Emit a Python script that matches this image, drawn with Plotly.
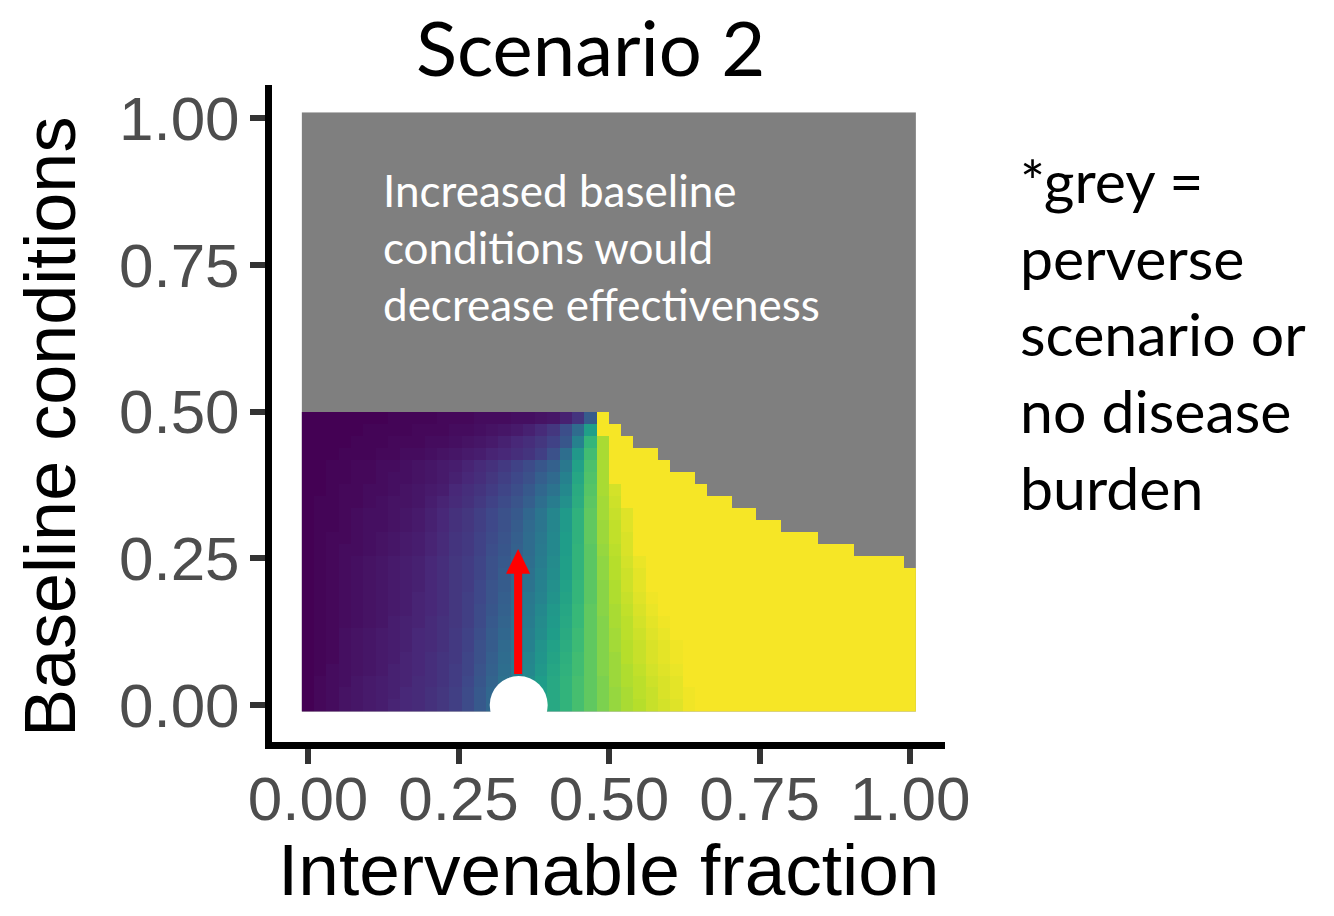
import plotly.graph_objects as go

# ---------------- data ----------------
n_grid = 50
x_vals = [i / 49 for i in range(n_grid)]          # Intervenable fraction grid
y_vals = [j / 49 for j in range(n_grid)]          # Baseline conditions grid

# highest coloured row index for each column (cells above are grey)
top_row = [24] * 25 + [23, 22, 21, 21, 20, 19, 19, 18, 17, 17, 16, 16, 15, 15,
                       14, 14, 14, 13, 13, 13, 12, 12, 12, 12, 11]

# effectiveness (percent of colour scale), rows j = 0..24 (bottom to top), columns i = 0..49
eff_rows = [
    [0,2,3,5,6,7,8,10,11,12,14,16,19,23,28,33,38,44,50,56,60,65,70,75,80,84,87,89,92,94,96,99,100,100,100,100,100,100,100,100,100,100,100,100,100,100,100,100,100,100],
    [0,2,3,5,6,7,8,9,11,12,14,16,19,23,28,33,38,44,50,56,60,65,70,75,80,84,87,90,92,95,97,99,100,100,100,100,100,100,100,100,100,100,100,100,100,100,100,100,100,100],
    [0,2,3,4,6,7,8,9,10,12,13,15,18,22,27,32,37,43,49,55,60,65,70,75,80,85,88,90,93,95,97,100,100,100,100,100,100,100,100,100,100,100,100,100,100,100,100,100,100,100],
    [0,1,3,4,5,6,7,9,10,11,13,15,18,21,26,31,36,41,47,53,59,64,69,75,81,85,88,91,94,96,98,100,100,100,100,100,100,100,100,100,100,100,100,100,100,100,100,100,100,100],
    [0,1,2,4,5,6,7,8,10,11,13,15,17,21,25,30,35,40,46,52,58,63,69,75,81,85,89,92,95,97,99,100,100,100,100,100,100,100,100,100,100,100,100,100,100,100,100,100,100,100],
    [0,1,2,4,5,6,7,8,9,11,12,14,17,20,25,29,34,39,44,51,57,62,68,75,81,86,89,92,95,97,99,100,100,100,100,100,100,100,100,100,100,100,100,100,100,100,100,100,100,100],
    [0,1,2,4,5,6,7,8,9,11,12,14,17,20,24,29,33,38,43,49,55,61,68,75,81,86,90,93,96,98,100,100,100,100,100,100,100,100,100,100,100,100,100,100,100,100,100,100,100,100],
    [0,1,2,3,4,5,6,8,9,10,12,14,16,19,23,28,32,37,42,48,54,60,67,75,81,87,90,94,97,99,100,100,100,100,100,100,100,100,100,100,100,100,100,100,100,100,100,100,100,100],
    [0,1,2,3,4,5,6,7,8,10,11,13,16,19,23,27,31,36,41,47,53,59,67,75,82,87,91,95,98,100,100,100,100,100,100,100,100,100,100,100,100,100,100,100,100,100,100,100,100,100],
    [0,1,2,3,4,5,6,7,8,10,11,13,16,19,22,26,30,35,40,45,51,58,66,74,82,88,92,96,99,100,100,100,100,100,100,100,100,100,100,100,100,100,100,100,100,100,100,100,100,100],
    [0,1,2,3,4,5,6,7,8,9,11,13,16,18,22,26,29,34,38,44,50,57,66,74,82,88,93,97,100,100,100,100,100,100,100,100,100,100,100,100,100,100,100,100,100,100,100,100,100,100],
    [0,1,2,3,4,5,6,7,8,9,11,13,16,18,21,25,29,33,37,43,49,56,65,74,83,89,93,97,100,100,100,100,100,100,100,100,100,100,100,100,100,100,100,100,100,100,100,100,100,100],
    [0,1,2,3,4,5,6,7,8,9,11,13,16,18,21,25,28,32,36,42,48,56,65,74,83,89,94,98,100,100,100,100,100,100,100,100,100,100,100,100,100,100,100,100,100,100,100,100,100,100],
    [0,1,2,3,3,4,5,6,7,8,10,12,15,17,20,24,27,31,35,41,47,55,65,74,84,90,95,100,100,100,100,100,100,100,100,100,100,100,100,100,100,100,100,100,100,100,100,100,100,100],
    [0,1,2,2,3,4,5,6,7,8,10,12,15,17,20,23,26,30,35,40,47,55,64,75,85,91,95,100,100,100,100,100,100,100,100,100,100,100,100,100,100,100,100,100,100,100,100,100,100,100],
    [0,1,1,2,3,4,4,5,6,7,9,11,14,16,19,22,25,29,34,39,46,54,64,75,85,91,96,100,100,100,100,100,100,100,100,100,100,100,100,100,100,100,100,100,100,100,100,100,100,100],
    [0,1,1,2,3,4,4,5,6,7,9,11,14,16,19,22,25,28,33,39,46,54,64,75,86,92,96,100,100,100,100,100,100,100,100,100,100,100,100,100,100,100,100,100,100,100,100,100,100,100],
    [0,1,1,2,2,3,4,5,5,6,8,10,12,14,17,20,23,26,30,36,42,50,62,74,86,93,100,100,100,100,100,100,100,100,100,100,100,100,100,100,100,100,100,100,100,100,100,100,100,100],
    [0,0,1,2,2,3,3,4,5,6,7,8,11,13,15,18,21,24,28,33,38,47,61,73,87,94,100,100,100,100,100,100,100,100,100,100,100,100,100,100,100,100,100,100,100,100,100,100,100,100],
    [0,0,1,1,2,2,3,4,4,5,6,7,9,11,13,16,19,22,25,30,34,44,59,72,87,100,100,100,100,100,100,100,100,100,100,100,100,100,100,100,100,100,100,100,100,100,100,100,100,100],
    [0,0,1,1,2,2,3,3,4,5,6,7,8,10,12,14,17,20,23,27,31,40,57,71,87,100,100,100,100,100,100,100,100,100,100,100,100,100,100,100,100,100,100,100,100,100,100,100,100,100],
    [0,0,0,1,1,1,2,2,3,3,4,5,6,7,8,10,11,13,15,19,25,36,53,69,87,100,100,100,100,100,100,100,100,100,100,100,100,100,100,100,100,100,100,100,100,100,100,100,100,100],
    [0,0,0,0,1,1,1,2,2,2,3,3,4,5,6,7,9,11,13,16,20,27,44,66,87,100,100,100,100,100,100,100,100,100,100,100,100,100,100,100,100,100,100,100,100,100,100,100,100,100],
    [0,0,0,0,0,1,1,1,1,2,2,2,3,3,4,5,6,7,9,12,16,24,35,56,100,100,100,100,100,100,100,100,100,100,100,100,100,100,100,100,100,100,100,100,100,100,100,100,100,100],
    [0,0,0,0,0,0,0,1,1,1,1,2,2,2,3,3,3,4,4,5,6,9,15,29,100,100,100,100,100,100,100,100,100,100,100,100,100,100,100,100,100,100,100,100,100,100,100,100,100,100],
]

tick_vals = [0, 0.25, 0.5, 0.75, 1.0]
tick_text = ["0.00", "0.25", "0.50", "0.75", "1.00"]

point_x = [0.35]     # current situation marker
point_y = [0.0]

arrow_x = 0.349
arrow_y0 = 0.053
arrow_y1 = 0.228
arrow_tip = 0.266
arrow_half = 0.02

# ---------------- build matrices ----------------
z_eff = []
for j in range(n_grid):
    row = []
    for i in range(n_grid):
        if j < len(eff_rows) and j <= top_row[i]:
            row.append(eff_rows[j][i] / 100.0)
        else:
            row.append(None)
    z_eff.append(row)
z_grey = [[1.0] * n_grid for _ in range(n_grid)]

viridis = [[0.0, "#440154"], [0.1111, "#482878"], [0.2222, "#3e4989"], [0.3333, "#31688e"],
           [0.4444, "#26828e"], [0.5556, "#1f9e89"], [0.6667, "#35b779"], [0.7778, "#6ece58"],
           [0.8889, "#b5de2b"], [1.0, "#f6e626"]]

fig = go.Figure()
fig.add_trace(go.Heatmap(x=x_vals, y=y_vals, z=z_grey, colorscale=[[0, "#7f7f7f"], [1, "#7f7f7f"]],
                         showscale=False, hoverinfo="skip", zmin=0, zmax=1))
fig.add_trace(go.Heatmap(x=x_vals, y=y_vals, z=z_eff, colorscale=viridis, zmin=0, zmax=1,
                         showscale=False, hoverinfo="skip"))
fig.add_trace(go.Scatter(x=point_x, y=point_y, mode="markers",
                         marker=dict(size=58, color="white", line=dict(width=0)),
                         hoverinfo="skip", showlegend=False))

# red arrow
fig.add_shape(type="line", x0=arrow_x, x1=arrow_x, y0=arrow_y0, y1=arrow_y1,
              line=dict(color="#ff0000", width=8), xref="x", yref="y")
fig.add_shape(type="path",
              path=f"M {arrow_x-arrow_half},{arrow_y1-0.004} L {arrow_x+arrow_half},{arrow_y1-0.004} L {arrow_x},{arrow_tip} Z",
              fillcolor="#ff0000", line=dict(width=0), xref="x", yref="y")

axis_common = dict(showgrid=False, zeroline=False, showline=True, linecolor="black", linewidth=7,
                   ticks="outside", ticklen=15, tickwidth=6, tickcolor="#333333",
                   tickvals=tick_vals, ticktext=tick_text,
                   tickfont=dict(family="Liberation Sans, Arial, sans-serif", size=62, color="#4d4d4d"))

fig.update_layout(
    width=1334, height=916,
    margin=dict(l=272, r=389, t=85, b=174, pad=0),
    paper_bgcolor="white", plot_bgcolor="white",
    showlegend=False,
    xaxis=dict(range=[-0.0598, 1.0581], ticklabelstandoff=-18, **axis_common),
    yaxis=dict(range=[-0.063, 1.057], ticklabelstandoff=-2, **axis_common),
)

fig.add_annotation(text="Scenario 2", xref="paper", yref="paper", x=(590 - 272) / 673, y=(742 - 46) / 657,
                   xanchor="center", yanchor="middle", showarrow=False,
                   font=dict(family="Lato, sans-serif", size=76, color="black"))
fig.add_annotation(text="Intervenable fraction", xref="paper", yref="paper", x=(608 - 272) / 673,
                   y=(742 - 869) / 657, xanchor="center", yanchor="middle", showarrow=False,
                   font=dict(family="Liberation Sans, Arial, sans-serif", size=73, color="black"))
fig.add_annotation(text="Baseline conditions", xref="paper", yref="paper", x=(50 - 272) / 673,
                   y=(742 - 427) / 657, xanchor="center", yanchor="middle", showarrow=False, textangle=-90,
                   font=dict(family="Liberation Sans, Arial, sans-serif", size=72, color="black"))
fig.add_annotation(text="Increased baseline<br>conditions would<br>decrease effectiveness",
                   xref="x", yref="y", x=0.121, y=0.781, xanchor="left", yanchor="middle",
                   align="left", showarrow=False,
                   font=dict(family="Lato, sans-serif", size=44, color="white"))
fig.add_annotation(text="*grey =<br>perverse<br>scenario or<br>no disease<br>burden",
                   xref="paper", yref="paper", x=(1018 - 272) / 673, y=(742 - 334) / 657,
                   xanchor="left", yanchor="middle", align="left", showarrow=False,
                   font=dict(family="Lato, sans-serif", size=59, color="black"))

fig.write_html("out.html")
